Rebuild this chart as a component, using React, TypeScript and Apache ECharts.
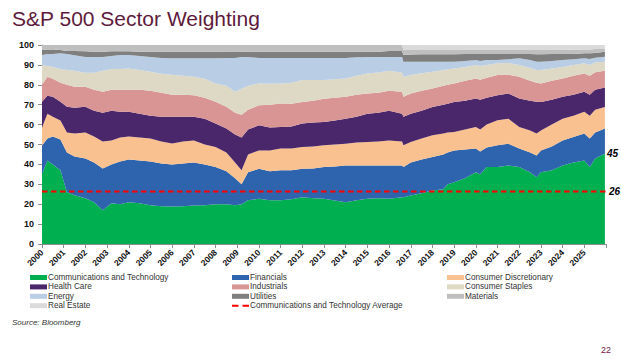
import React, { useEffect, useRef } from 'react';
import * as echarts from 'echarts';

// Sample dates (decimal years)
const dates = [
  2000.0, 2000.25, 2000.5, 2000.85, 2001.15, 2001.5, 2002.0, 2002.4, 2002.8, 2003.2,
  2003.6, 2004.0, 2004.5, 2005.0, 2005.5, 2006.0, 2006.5, 2007.0, 2007.5, 2008.0,
  2008.5, 2008.9, 2009.2, 2009.5, 2010.0, 2010.5, 2011.0, 2011.5, 2012.0, 2012.5,
  2013.0, 2013.5, 2014.0, 2014.5, 2015.0, 2015.5, 2016.0, 2016.6, 2016.66, 2017.0,
  2017.5, 2018.0, 2018.5, 2018.7, 2019.0, 2019.5, 2020.0, 2020.2, 2020.5, 2021.0,
  2021.5, 2022.0, 2022.5, 2022.8, 2023.0, 2023.5, 2024.0, 2024.5, 2025.0, 2025.25,
  2025.5, 2025.95,
];

// Sector weights (%)
const commTech = [
  35, 42, 40, 37, 26, 24.5, 23, 21, 17, 20.5,
  20, 21, 20.5, 19.5, 19, 18.8, 19, 19.3, 19.5, 20,
  20, 19.5, 20, 22, 22.7, 22, 22, 22.5, 23.5, 23,
  22.7, 21.8, 21, 22, 22.7, 23, 22.7, 23.5, 23.5, 24.4,
  25.5, 26.9, 27.5, 30, 31, 33, 36, 35, 38.7, 38.7,
  39.5, 38.7, 36, 33.6, 36, 37, 39.5, 41, 42, 38.7,
  43, 45.4,
];
const financials = [
  14.5, 11, 14, 15.5, 20, 19.5, 20, 20, 21, 19.5,
  21.5, 21.5, 21.5, 22, 21.5, 21.2, 21.5, 21.7, 20.5, 18.7,
  16.5, 13.5, 10, 14, 15.1, 14.5, 15, 14.5, 14.3, 15,
  16, 17.2, 18.5, 17.5, 16.8, 16.5, 16.8, 16, 15.2, 16.6,
  17, 16.8, 17.5, 16, 16, 14.5, 12, 11.5, 9.8, 10.9,
  10.9, 9.3, 10, 10.9, 11, 12, 12.5, 12.8, 13.5, 14.3,
  13, 12.6,
];
const consumerDiscretionary = [
  9, 12.5, 10, 9.5, 10, 11.5, 13, 13, 13.5, 12,
  12, 11.5, 11.5, 11.5, 11, 10.5, 11, 11, 10, 10,
  9.5, 8, 7, 9, 9.2, 10.5, 11, 11, 10.9, 11,
  10.9, 11, 10.9, 11.5, 11.8, 12, 12.5, 12, 10.9, 10.3,
  10.5, 10.9, 10.5, 10, 9.3, 10, 10.8, 11, 11.5, 12.6,
  12.6, 10.8, 11, 11, 10, 11, 11, 10.7, 10.9, 11.5,
  11.5, 10.9,
];
const healthCare = [
  13, 9, 10, 9.5, 13, 13, 13, 13, 14.5, 15,
  13, 12.5, 12, 11.5, 12.5, 13.5, 12.5, 12, 13, 11.8,
  12, 14, 16.5, 12.5, 12.7, 11.5, 10.8, 11, 11.8, 12,
  11.7, 12, 12.6, 13, 14.2, 14.5, 15, 14, 14.3, 14.2,
  14, 14.3, 14.5, 14.5, 15.1, 14.5, 14.3, 15, 13.5, 12.6,
  12.6, 14.3, 15, 16, 14.4, 12.5, 11, 10.5, 10.1, 10.5,
  10, 9.7,
];
const industrials = [
  8.5, 9.5, 9, 9.5, 11, 10.5, 10, 10.5, 10.5, 10.5,
  11, 11, 12, 12.5, 12, 11, 11, 10.8, 10.5, 11,
  11, 11, 11.5, 10, 10, 11.5, 11.8, 11.5, 10.9, 11,
  11.7, 11.5, 11, 11, 10.1, 10, 10, 11, 10.1, 10.1,
  10, 9.3, 9.5, 9.5, 9.3, 10, 10.1, 10, 10, 10.1,
  9.4, 10.9, 10, 9.5, 9.3, 9.5, 9.2, 9.5, 9.2, 9.5,
  8.8, 8.4,
];
const consumerStaples = [
  10, 5.5, 6, 7, 7.5, 8, 7, 8.5, 10.5, 10.5,
  10.5, 10.7, 10, 9.5, 9.5, 10, 9.5, 9.2, 9.5, 9.2,
  10.5, 10.5, 13, 12, 11, 10.5, 10.1, 10.5, 11, 10.4,
  9.4, 9.3, 9.2, 9.5, 10.1, 10.2, 10, 9.5, 10, 9.3,
  8.8, 8.4, 8, 7.8, 7.5, 7, 6.8, 7, 6.5, 5.9,
  6, 6, 6.5, 6.5, 6.7, 6.2, 5.8, 5.5, 5.1, 5.5,
  4.9, 4.6,
];
const energy = [
  5, 6, 6.5, 7.8, 8, 7.8, 8, 8, 7, 6.5,
  7, 6.8, 7, 7.5, 8, 8.3, 8.8, 9.3, 10.3, 12.6,
  14, 17, 16, 14.5, 12.8, 13, 12.8, 12.5, 11.1, 11.1,
  11.1, 10.7, 10.3, 9.3, 8.3, 7.8, 7, 8, 7.6, 6.7,
  5.8, 5, 4.1, 3.8, 3.4, 3, 2.4, 2.5, 2.4, 1.6,
  1.8, 3.3, 4, 4.1, 4.2, 3.8, 3.4, 2.8, 2.5, 3,
  2.4, 2.5,
];
const utilities = [
  2.5, 2.3, 2.3, 1.7, 1.5, 2.2, 2.8, 2.6, 2.6, 2.3,
  1.8, 1.8, 2.1, 2.6, 3.1, 3.3, 3.3, 3.3, 3.3, 3.3,
  3.1, 3, 2.6, 2.6, 3.1, 3.1, 3.1, 3.1, 3.1, 3.1,
  3.1, 3.1, 3.1, 2.8, 2.6, 2.6, 3, 3, 3.4, 3.6,
  3.7, 3.7, 3.7, 3.7, 3.7, 3.5, 3.1, 3.5, 3.1, 3.1,
  2.7, 2.2, 3, 3.7, 3.7, 3.5, 3.1, 2.7, 2.5, 2.8,
  2.4, 2.5,
];
const materials = [
  2.5, 2.2, 2.2, 2.5, 3, 3, 3.2, 3.4, 3.4, 3.2,
  3.2, 3.2, 3.4, 3.4, 3.4, 3.4, 3.4, 3.4, 3.4, 3.4,
  3.4, 3.5, 3.4, 3.4, 3.4, 3.4, 3.4, 3.4, 3.4, 3.4,
  3.4, 3.4, 3.4, 3.4, 3.4, 3.4, 3, 3, 2.5, 2.3,
  2.2, 2.2, 2.2, 2.2, 2.2, 2, 2, 2, 2, 2,
  2, 2, 2, 2.2, 2.2, 2, 2, 2.3, 2, 2,
  2, 1.4,
];
const realEstate = [
  0, 0, 0, 0, 0, 0, 0, 0, 0, 0,
  0, 0, 0, 0, 0, 0, 0, 0, 0, 0,
  0, 0, 0, 0, 0, 0, 0, 0, 0, 0,
  0, 0, 0, 0, 0, 0, 0, 0, 2.5, 2.5,
  2.5, 2.5, 2.5, 2.5, 2.5, 2.5, 2.5, 2.5, 2.5, 2.5,
  2.5, 2.5, 2.5, 2.5, 2.5, 2.5, 2.5, 2.2, 2.2, 2.2,
  2, 2,
];

const commTechAverage = 26.4;

const xTickLabels = [
  '2000', '2001', '2002', '2003', '2004', '2005', '2006', '2007', '2008', '2009',
  '2010', '2011', '2012', '2013', '2014', '2015', '2016', '2017', '2018', '2019',
  '2020', '2021', '2022', '2023', '2024', '2025',
];

const FONT = 'Arial, "Liberation Sans", sans-serif';

export default function App() {
  const ref = useRef<HTMLDivElement>(null);

  useEffect(() => {
    if (!ref.current) return;
    const chart = echarts.init(ref.current, null, { renderer: 'svg' });

    const sectors = [
      { name: 'Communications and Technology', data: commTech, color: '#00B050' },
      { name: 'Financials', data: financials, color: '#2E63AD' },
      { name: 'Consumer Discretionary', data: consumerDiscretionary, color: '#F9C18F' },
      { name: 'Health Care', data: healthCare, color: '#4A276B' },
      { name: 'Industrials', data: industrials, color: '#D99594' },
      { name: 'Consumer Staples', data: consumerStaples, color: '#DDD9C4' },
      { name: 'Energy', data: energy, color: '#B9CDE5' },
      { name: 'Utilities', data: utilities, color: '#7F7F7F' },
      { name: 'Materials', data: materials, color: '#BFBFBF' },
      { name: 'Real Estate', data: realEstate, color: '#DADADA' },
    ];
    const avgName = 'Communications and Technology Average';

    const labelStyle = {
      fontFamily: FONT,
      fontSize: 10,
      fontWeight: 'bold' as const,
      fontStyle: 'italic' as const,
      color: '#000',
    };

    // Rows are [weight, date]; encode maps column 1 to x so that the stack is on the weight.
    const series: any[] = sectors.map((s, idx) => ({
      name: s.name,
      type: 'line',
      stack: 'total',
      encode: { x: 1, y: 0 },
      data: dates.map((d, i) => [s.data[i], d]),
      showSymbol: false,
      symbol: 'none',
      silent: true,
      color: s.color,
      lineStyle: { width: 0, color: s.color },
      itemStyle: { color: s.color },
      areaStyle: { color: s.color, opacity: 1 },
      z: 2,
      endLabel:
        idx === 0
          ? {
              show: true,
              distance: 2,
              formatter: (p: any) => String(Math.round(p.value[0])),
              ...labelStyle,
            }
          : undefined,
    }));

    series.push({
      name: avgName,
      type: 'line',
      data: [
        [2000, commTechAverage],
        [2026, commTechAverage],
      ],
      showSymbol: false,
      symbol: 'none',
      silent: true,
      color: '#FF0000',
      itemStyle: { color: '#FF0000' },
      lineStyle: { color: '#FF0000', width: 2, type: [5.5, 3.5] },
      z: 5,
      endLabel: {
        show: true,
        distance: 3,
        formatter: () => String(Math.round(commTechAverage)),
        ...labelStyle,
      },
    });

    const ROW = 9.4;
    const TOP = 272.8;
    const legendText = {
      fontFamily: FONT,
      fontSize: 8.2,
      color: '#333',
      lineHeight: ROW,
      padding: [0, 0, 0, -4],
    };
    const mkLegend = (left: number, top: number, names: string[], h = 5, icon = 'rect') => ({
      left,
      top,
      orient: 'vertical',
      itemWidth: 17,
      itemHeight: h,
      itemGap: 0,
      padding: 0,
      selectedMode: false,
      icon,
      textStyle: legendText,
      data: names.map((n) => ({ name: n, icon })),
    });

    chart.setOption({
      animation: false,
      textStyle: { fontFamily: FONT },
      grid: { left: 42, right: 15, top: 45, bottom: 116, containLabel: false },
      graphic: [
        {
          type: 'text',
          left: 12,
          top: 8,
          style: {
            text: 'S&P 500 Sector Weighting',
            fontFamily: FONT,
            fontSize: 21,
            fill: '#5E1A3C',
          },
        },
        {
          type: 'text',
          left: 12,
          top: 318,
          style: {
            text: 'Source: Bloomberg',
            fontFamily: FONT,
            fontSize: 8,
            fontStyle: 'italic',
            fill: '#333',
          },
        },
        {
          type: 'text',
          right: 10,
          top: 345,
          style: {
            text: '22',
            fontFamily: FONT,
            fontSize: 9,
            fill: '#7A2048',
          },
        },
      ],
      legend: [
        mkLegend(30, TOP, ['Communications and Technology', 'Health Care', 'Energy', 'Real Estate']),
        mkLegend(232, TOP, ['Financials', 'Industrials', 'Utilities']),
        mkLegend(232, TOP + 3 * ROW, [avgName], 2, 'path://M0,0H6.5V2H0Z M10.5,0H17V2H10.5Z'),
        mkLegend(447, TOP, ['Consumer Discretionary', 'Consumer Staples', 'Materials']),
      ],
      xAxis: {
        type: 'value',
        min: 2000,
        max: 2026,
        interval: 1,
        axisLine: { show: true, lineStyle: { color: '#8C8C8C', width: 1 } },
        axisTick: { show: true, length: 4, lineStyle: { color: '#8C8C8C' } },
        splitLine: { show: false },
        axisLabel: {
          rotate: 45,
          margin: 7,
          fontFamily: FONT,
          fontSize: 8.5,
          fontWeight: 'bold',
          color: '#111',
          formatter: (v: number) => xTickLabels[Math.round(v) - 2000] ?? '',
        },
      },
      yAxis: {
        type: 'value',
        min: 0,
        max: 100,
        interval: 10,
        axisLine: { show: true, lineStyle: { color: '#8C8C8C', width: 1 } },
        axisTick: { show: true, length: 4, lineStyle: { color: '#8C8C8C' } },
        splitLine: { show: false },
        axisLabel: {
          margin: 8,
          fontFamily: FONT,
          fontSize: 9,
          fontWeight: 'bold',
          color: '#111',
        },
      },
      series,
    });

    return () => chart.dispose();
  }, []);

  return (
    <div
      ref={ref}
      style={{ position: 'fixed', left: 0, top: 0, width: 621, height: 360, background: '#fff' }}
    />
  );
}
